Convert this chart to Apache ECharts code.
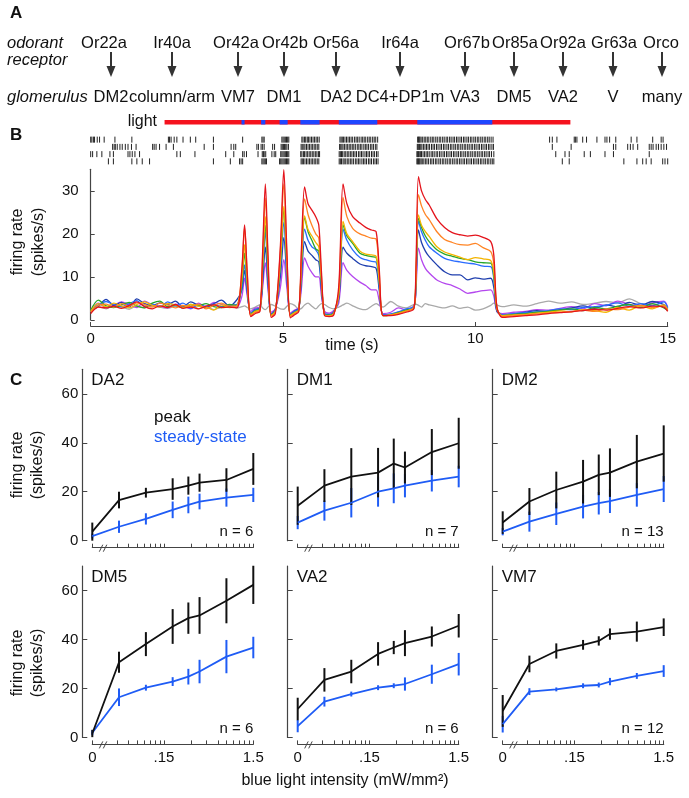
<!DOCTYPE html>
<html><head><meta charset="utf-8">
<script src="https://cdn.jsdelivr.net/npm/echarts@6/dist/echarts.min.js"></script>
<style>html,body{margin:0;padding:0;background:#fff}#c{width:689px;height:798px}</style>
</head><body><div id="c"></div>
<script>
// ---------------- Panel A ----------------
const receptors = ['Or22a','Ir40a','Or42a','Or42b','Or56a','Ir64a','Or67b','Or85a','Or92a','Gr63a','Orco'];
const glomeruli = ['DM2','column/arm','VM7','DM1','DA2','DC4+DP1m','VA3','DM5','VA2','V','many'];

// ---------------- Panel B ----------------
const lightOn = [1.92, 12.47];
const bluePulseStart = [3.92, 4.43, 4.91, 5.45, 6.45, 8.49];
const bluePulseEnd   = [4.00, 4.54, 5.12, 5.95, 7.45, 10.44];

const spikesRow1 = [0.0,0.03,0.07,0.1,0.17,0.23,0.35,0.63,1.07,2.02,2.05,2.09,2.17,2.24,2.4,2.59,2.73,3.19,3.95,4.45,4.48,4.51,4.97,5.0,5.03,5.06,5.09,5.12,5.15,5.49,5.52,5.56,5.59,5.63,5.66,5.7,5.74,5.78,5.82,5.86,5.9,5.94,6.48,6.51,6.54,6.57,6.61,6.65,6.69,6.73,6.77,6.81,6.86,6.9,6.94,6.98,7.03,7.07,7.11,7.15,7.2,7.24,7.28,7.33,7.37,7.41,7.46,8.5,8.52,8.54,8.56,8.59,8.63,8.67,8.71,8.75,8.79,8.84,8.88,8.92,8.97,9.01,9.06,9.1,9.15,9.19,9.24,9.28,9.33,9.37,9.42,9.46,9.51,9.55,9.6,9.64,9.69,9.73,9.78,9.82,9.87,9.91,9.96,10.0,10.05,10.09,10.14,10.18,10.23,10.27,10.32,10.36,10.41,10.46,11.93,12.0,12.12,12.57,12.6,12.64,12.79,12.89,13.16,13.37,13.42,13.49,13.65,14.05,14.2,14.61,14.83,14.88];
const spikesRow2 = [0.57,0.61,0.64,0.69,0.76,0.82,0.9,0.97,1.06,1.18,1.61,1.65,1.7,1.79,1.96,2.15,2.95,3.19,3.65,3.72,3.77,4.32,4.36,4.43,4.47,4.51,4.73,4.78,4.95,4.98,5.01,5.04,5.07,5.1,5.14,5.47,5.5,5.54,5.57,5.61,5.65,5.69,5.73,5.77,5.81,5.85,5.89,5.93,6.47,6.5,6.53,6.56,6.6,6.64,6.68,6.72,6.76,6.8,6.84,6.88,6.93,6.97,7.01,7.05,7.1,7.14,7.18,7.22,7.27,7.31,7.35,7.4,7.44,8.49,8.51,8.53,8.55,8.58,8.61,8.65,8.69,8.73,8.77,8.81,8.86,8.9,8.94,8.99,9.03,9.08,9.12,9.17,9.21,9.26,9.3,9.35,9.39,9.44,9.48,9.53,9.57,9.62,9.66,9.71,9.75,9.8,9.84,9.89,9.93,9.98,10.02,10.07,10.11,10.16,10.2,10.25,10.29,10.34,10.38,10.43,10.47,12.0,12.49,13.59,13.65,13.96,14.03,14.1,14.22,14.52,14.57,14.62,14.7,14.76,14.83,14.9,14.97];
const spikesRow3 = [0.0,0.05,0.16,0.29,0.5,0.59,0.97,1.02,1.08,1.15,1.27,2.24,2.33,2.71,3.51,3.72,3.95,3.99,4.05,4.35,4.46,4.49,4.51,4.55,4.71,4.77,4.81,4.94,4.97,5.0,5.03,5.06,5.09,5.12,5.15,5.46,5.49,5.53,5.56,5.6,5.64,5.68,5.72,5.76,5.8,5.84,5.88,5.92,5.95,6.46,6.49,6.52,6.55,6.59,6.63,6.67,6.71,6.75,6.79,6.83,6.87,6.91,6.96,7.0,7.04,7.08,7.13,7.17,7.21,7.25,7.3,7.34,7.38,7.43,7.47,8.48,8.5,8.52,8.54,8.57,8.6,8.64,8.68,8.72,8.76,8.8,8.85,8.89,8.93,8.98,9.02,9.07,9.11,9.16,9.2,9.25,9.29,9.34,9.38,9.43,9.47,9.52,9.56,9.61,9.65,9.7,9.74,9.79,9.83,9.88,9.92,9.97,10.01,10.06,10.1,10.15,10.19,10.24,10.28,10.33,10.37,10.42,10.48,12.09,12.33,12.44,12.83,12.99,13.37,13.59,14.52];
const spikesRow4 = [0.46,0.59,1.07,1.2,1.34,1.53,3.19,3.63,3.87,3.91,3.95,4.45,4.48,4.51,4.54,4.57,4.91,4.94,4.97,5.0,5.03,5.06,5.09,5.12,5.15,5.47,5.5,5.53,5.57,5.61,5.65,5.69,5.73,5.77,5.81,5.85,5.89,5.93,6.46,6.49,6.52,6.56,6.59,6.63,6.67,6.71,6.75,6.79,6.83,6.88,6.92,6.96,7.0,7.05,7.09,7.13,7.17,7.22,7.26,7.3,7.35,7.39,7.43,7.47,8.48,8.5,8.52,8.54,8.56,8.59,8.62,8.66,8.7,8.74,8.78,8.83,8.87,8.91,8.96,9.0,9.05,9.09,9.14,9.18,9.23,9.27,9.32,9.36,9.41,9.45,9.5,9.54,9.59,9.63,9.68,9.72,9.77,9.81,9.86,9.9,9.95,9.99,10.04,10.08,10.13,10.17,10.22,10.26,10.31,10.35,10.4,10.44,10.48,12.26,12.44,13.86,14.2,14.35,14.44,14.57,14.87,14.93,15.0];

const traceTime = [0,0.2,0.4,0.6,0.8,1,1.2,1.4,1.6,1.8,2,2.2,2.4,2.6,2.8,3,3.2,3.4,3.6,3.8,
 3.93,4,4.07,4.16,4.28,4.4,4.47,4.54,4.61,4.69,4.8,4.93,5.02,5.1,5.19,5.3,5.41,5.48,5.56,5.65,5.75,5.85,5.93,6,6.08,6.2,6.32,
 6.45,6.56,6.66,6.81,7,7.15,7.3,7.42,7.5,7.6,
 7.8,8,8.2,8.4,
 8.45,8.52,8.6,8.7,8.8,9,9.2,9.4,9.6,9.8,10,10.2,10.4,10.48,10.56,10.7,
 11,11.3,11.6,11.9,12.2,12.5,12.8,13.1,13.4,13.7,14,14.3,14.6,14.9,15];
const rateRed = [1.5,3.0,2.8,3.2,2.7,3.4,4.2,3.1,2.6,3.3,2.9,3.6,2.7,3.0,2.6,3.2,3.5,2.9,3.0,2.8,
 12,22.1,11,0.8,1.5,2.0,16,31.6,15,0.6,1.5,17,34.9,16,0.5,1.2,2.0,17,30.9,27,25.5,24,22,11,1.0,0.8,1.2,
 8,31.6,27,24,22.5,21.5,20.9,20.5,12,1,
 1.0,1.3,1.8,2.6,
 10,33.3,30,28,26.7,23.5,21.5,20.3,19.8,19.5,19.7,19.2,18.2,15,3,0.6,
 0.8,1.0,1.2,1.5,1.7,1.9,2.2,2.5,2.3,2.7,3.1,2.8,3.2,3.0,2.0];
const rateOrange = [1.8,3.4,3.7,3.0,3.8,3.2,4.0,3.6,3.0,3.9,3.5,2.8,3.4,3.1,3.7,2.6,3.4,3.9,3.2,3.3,
 11.5,21.5,10.5,1.0,1.8,2.2,14.5,28.3,14,0.9,1.8,16,31.6,15,0.8,1.5,2.2,15.5,28.1,24.5,22,20,19,10,1.1,0.9,1.4,
 7,28.5,24,21.3,20,19.5,19,18.8,11,1,
 1.1,1.4,2.0,2.8,
 9,29.1,26.5,24.5,23.3,20.5,18.7,18,17.5,17.4,17.8,16.8,15.9,13,3,0.8,
 1.0,1.2,1.4,1.6,1.8,2.0,2.3,2.0,2.6,2.4,3.0,3.4,2.9,3.3,2.2];
const rateYellow = [2.0,3.8,3.1,3.9,3.3,2.8,3.6,4.2,3.4,3.0,3.8,3.5,2.9,3.6,3.2,3.0,2.3,3.5,2.9,3.2,
 9.5,17.5,8.5,1.2,2.0,2.4,12.5,24,12,1.1,2.0,13.5,26.4,13,1.0,1.7,2.3,13.5,24.2,21,19.5,18,17,9,1.2,1.0,1.5,
 6,22.9,20,18.2,16,15.3,15.1,14.8,9,1,
 1.2,1.6,2.1,2.9,
 8,24.4,22,20.5,19.4,17,15.8,15.2,14.6,14,14.5,14.2,13.8,11,2.5,1,
 1.2,1.3,1.6,1.8,2.1,1.9,2.4,2.2,1.8,2.9,2.3,3.3,2.6,3.5,2.4];
const rateGreen = [2.2,4.6,3.3,2.9,3.5,4.1,3.2,2.8,3.9,4.4,3.1,3.4,2.8,3.6,3.3,3.8,3.1,2.9,3.6,3.4,
 8.5,15.5,8,1.3,2.2,2.5,11.5,22,11,1.2,2.1,13,25.6,12.5,1.1,1.8,2.4,13,23.8,20.5,18.5,16.5,16,8.5,1.3,1.1,1.6,
 6,22.1,19.5,17.8,15.5,15,14.7,14.5,9,1,
 1.2,1.7,2.3,2.7,
 8,23.6,21.5,19.5,18.2,16.3,15.3,14.8,14.3,14,13.5,13.3,13.2,10,2.5,1,
 1.3,1.5,1.8,2.0,2.3,2.6,2.2,2.9,2.6,3.2,3.6,2.9,3.8,2.8,2.2];
const rateBlue = [2.3,3.5,4.3,3.6,3.1,3.8,4.5,3.2,3.7,3.0,4.2,3.3,3.9,2.7,3.5,3.2,3.7,3.1,3.4,3.6,
 7.5,12.8,7,1.5,2.4,2.7,11,20.5,10,1.3,2.3,12,22.6,11,1.2,2.0,2.6,12,21.1,18.5,17,16.3,15,8,1.5,1.2,1.8,
 6,21.1,18.5,16.3,14.5,14,13.6,13.4,8,1.2,
 1.4,1.9,2.6,3.1,
 7,22.9,20.5,18.5,17,15.5,14.3,13.8,13.5,13.2,13,12.5,12.4,9.5,2.5,1.2,
 1.5,1.7,1.9,2.2,2.6,2.4,2.9,3.1,3.4,4.0,3.2,3.8,3.3,4.2,2.8];
const rateNavy = [2.0,3.2,4.8,3.4,4.1,3.0,4.9,3.8,3.3,4.0,3.6,4.4,3.0,4.2,3.4,2.9,3.8,4.6,3.2,4.7,
 7,11.5,6.5,1.5,2.5,2.8,9,16.9,8.5,1.4,2.4,10,19.1,10,1.3,2.1,2.7,10,18.2,16,15,14,13.5,7,1.5,1.3,1.9,
 5,16.9,15.5,14.3,13,12.6,12.4,12,7,1.2,
 1.3,1.8,2.2,3.0,
 7,20.9,18,16,14.7,12.8,11.2,10.5,10.5,9.3,9.8,9.5,9.7,7.5,2,1.2,
 1.4,1.8,2.2,1.9,2.4,2.8,3.3,2.7,3.5,3.1,4.1,3.4,4.3,3.6,2.6];
const ratePurple = [1.9,3.9,2.9,3.4,4.2,3.6,2.9,4.4,3.5,3.2,2.8,3.7,3.3,2.6,3.9,3.0,4.1,3.6,3.1,3.0,
 5.5,9.7,5.5,2.0,2.8,3.0,7.5,13.3,7,1.8,2.6,7.5,14,7.5,1.6,2.3,2.9,7.5,14.4,12.5,11,10,10,5.5,2.0,1.6,2.2,
 4,13.3,11.5,10.1,8.8,8,7,7,4.5,1.5,
 1.8,2.8,2.4,3.3,
 6,16.7,14,12,10.9,9.3,8.5,8,7.2,6.2,6.5,6.8,7,5.5,2,1.5,
 1.8,2.0,2.4,2.3,2.7,3.1,2.6,3.8,3.3,4.4,3.6,3.2,4.0,4.4,3.0];
const rateGray = [2.5,3.1,2.6,3.4,3.0,2.5,3.3,2.8,3.6,3.0,2.7,3.2,2.9,3.5,2.6,3.1,2.4,3.0,3.3,2.8,
 3.1,3.3,2.9,2.6,3.0,3.5,2.8,2.4,3.0,3.6,3.2,2.6,2.5,3.2,3.8,3.4,2.5,2.7,3.5,3.9,3.2,2.6,3.3,3.8,3.6,2.9,2.6,
 3.0,3.5,3.9,3.3,2.6,2.4,3.2,3.8,3.4,3.0,
 4.3,3.2,2.8,3.6,
 3.7,3.4,3.0,3.8,3.5,3.1,2.8,3.3,2.7,3.0,2.3,2.6,3.4,3.9,3.5,3.1,
 3.5,3.2,3.8,4.4,3.9,4.2,3.6,3.9,4.3,4.0,4.9,3.8,3.5,3.4,3.0];
const bTimeTicks = [0, 5, 10, 15];
const bRateTicks = [0, 10, 20, 30];

// ---------------- Panel C ----------------
const intensities = [0, 0.047, 0.094, 0.1875, 0.281, 0.375, 0.75, 1.5];
const glomNames = ['DA2','DM1','DM2','DM5','VA2','VM7'];
const nCells = [6, 7, 13, 6, 6, 12];
const peakDA2 = [3.7,16.6,19.6,21.1,22.5,23.7,24.8,29.3];
const peakErrDA2 = [3.7,3.4,2.0,4.4,3.7,3.7,4.8,6.5];
const steadyDA2 = [1.9,5.7,8.9,12.6,14.6,16.0,17.6,18.7];
const steadyErrDA2 = [1.0,2.5,2.3,3.4,3.4,3.2,3.7,2.9];
const peakDM1 = [14.3,22.5,26.2,27.8,31.5,29.9,36.2,39.8];
const peakErrDM1 = [7.8,6.7,11.6,10.1,10.2,6.5,9.4,10.4];
const steadyDM1 = [7.4,12.3,15.5,20.0,21.4,22.5,24.5,26.2];
const steadyErrDM1 = [2.7,4.1,6.0,6.1,6.1,4.8,4.4,4.4];
const peakDM2 = [7.4,16.0,20.7,24.1,26.9,27.8,32.3,35.6];
const peakErrDM2 = [4.6,5.5,7.5,8.9,8.3,9.9,10.9,11.5];
const steadyDM2 = [3.7,7.8,11.0,13.9,15.3,16.2,18.7,21.1];
const steadyErrDM2 = [1.5,4.1,4.6,4.8,4.6,4.9,4.8,5.3];
const peakDM5 = [1.6,30.7,38.1,45.3,48.7,49.8,55.8,62.3];
const peakErrDM5 = [1.5,4.3,4.9,7.1,6.4,7.5,9.2,7.8];
const steadyDM5 = [1.9,16.4,20.3,22.8,24.8,26.9,33.0,36.7];
const steadyErrDM5 = [1.0,3.6,1.2,1.8,3.2,4.8,6.8,4.4];
const peakVA2 = [11.6,23.5,26.9,34.1,36.7,38.5,41.2,45.6];
const peakErrVA2 = [4.6,4.8,4.8,4.8,2.7,5.3,4.1,4.8];
const steadyVA2 = [4.6,14.6,17.7,20.3,21.1,21.8,25.8,29.9];
const steadyErrVA2 = [2.5,2.0,1.0,1.0,1.0,2.7,3.9,4.6];
const peakVM7 = [10.8,30.0,35.3,37.8,39.4,42.2,43.2,45.0];
const peakErrVM7 = [6.5,3.4,3.1,2.0,1.9,2.3,4.1,3.6];
const steadyVM7 = [5.4,18.7,19.6,21.1,21.4,22.8,25.1,27.1];
const steadyErrVM7 = [3.4,1.4,0.8,1.0,1.0,1.5,1.2,2.4];
const cXTicks = [0,0.045,0.06,0.075,0.09,0.105,0.12,0.135,0.15,0.3,0.45,0.6,0.75,0.9,1.05,1.2,1.35,1.5];
const cXLabelValues = [0, 0.15, 1.5];
const cXLabelTexts = ['0', '.15', '1.5'];
const cYTicks = [0, 20, 40, 60];

// ---------------- build ----------------
const FONT = 'Liberation Sans, Arial, Helvetica, sans-serif';
const TXT = '#111';
const AX = '#444';
const zeroPlacement = 0.0236; // where "0" sits on the log-scaled axis (before the break)
const logPos = v => Math.log10(v === 0 ? zeroPlacement : v);

const chart = echarts.init(document.getElementById('c'));
const grid = [], xAxis = [], yAxis = [], series = [], graphic = [];

function txt(text, x, y, o) {
  o = o || {};
  graphic.push({type:'text', x:x, y:y, rotation:o.rot||0, silent:true,
    style:{text:text, fill:o.fill||TXT, fontSize:o.size||15, fontFamily:FONT,
      fontStyle:o.italic?'italic':'normal', fontWeight:o.bold?'bold':'normal',
      align:o.align||'center', verticalAlign:'middle', textAlign:o.align||'center', textVerticalAlign:'middle'}});
}

// Panel A
const AF = 16.5;
txt('A', 10, 13, {bold:true, size:17, align:'left'});
txt('odorant', 7, 43, {italic:true, align:'left', size:AF});
txt('receptor', 7, 60, {italic:true, align:'left', size:AF});
txt('glomerulus', 7, 97, {italic:true, align:'left', size:AF});
const recX = [104,172,236,285,336,400,467,515,563,614,661];
const arrowX = [111,172,238,284,336,400,465,514,563,613,662];
receptors.forEach((r,k)=>txt(r, recX[k], 43, {size:AF}));
glomeruli.forEach((g,k)=>txt(g, arrowX[k], 97, {size:AF}));
arrowX.forEach(x=>{
  graphic.push({type:'line', silent:true, shape:{x1:x,y1:52,x2:x,y2:68}, style:{stroke:'#333', lineWidth:2}});
  graphic.push({type:'polygon', silent:true, shape:{points:[[x-4.5,66],[x+4.5,66],[x,77]]}, style:{fill:'#333'}});
});

// Panel B
txt('B', 10, 135, {bold:true, size:17, align:'left'});
txt('light', 157, 122, {align:'right', size:16});
const bLeft = 90.7, bWidth = 577;
// grid 0: light bar
grid.push({left:bLeft, top:120, width:bWidth, height:4.5, outerBoundsMode:'none'});
xAxis.push({gridIndex:0, type:'value', min:0, max:15, show:false});
yAxis.push({gridIndex:0, type:'value', min:0, max:1, show:false});
const lightData = [[lightOn[0], lightOn[1], 0]].concat(bluePulseStart.map((s,k)=>[s, bluePulseEnd[k], 1]));
series.push({type:'custom', xAxisIndex:0, yAxisIndex:0, data:lightData, silent:true,
  encode:{x:[0,1]},
  renderItem:function(p, api){
    const a = api.coord([api.value(0), 0]), b = api.coord([api.value(1), 1]);
    return {type:'rect', shape:{x:a[0], y:b[1], width:b[0]-a[0], height:a[1]-b[1]},
      style:{fill: api.value(2) === 1 ? '#1e46ff' : '#f5121e'}};
  }});
// grid 1: raster
grid.push({left:bLeft, top:136, width:bWidth, height:29, outerBoundsMode:'none'});
xAxis.push({gridIndex:1, type:'value', min:0, max:15, show:false});
yAxis.push({gridIndex:1, type:'value', min:0.5, max:4.5, inverse:true, show:false});
const rasterData = [];
[spikesRow1, spikesRow2, spikesRow3, spikesRow4].forEach((row,r)=>row.forEach(t=>rasterData.push([t, r+1])));
series.push({type:'custom', xAxisIndex:1, yAxisIndex:1, data:rasterData, silent:true,
  renderItem:function(p, api){
    const c = api.coord([api.value(0), api.value(1)]);
    return {type:'line', shape:{x1:c[0], y1:c[1]-3, x2:c[0], y2:c[1]+3}, style:{stroke:'#222', lineWidth:1}};
  }});
// grid 2: traces
grid.push({left:bLeft, top:169.3, width:bWidth, height:150.7, outerBoundsMode:'none'});
xAxis.push({gridIndex:2, type:'value', min:0, max:15, offset:6,
  axisLine:{show:true, onZero:false, lineStyle:{color:AX, width:1.2}},
  axisTick:{show:true, inside:true, length:4, customValues:bTimeTicks, lineStyle:{color:AX}},
  axisLabel:{customValues:bTimeTicks, color:TXT, fontSize:15, fontFamily:FONT, margin:5},
  splitLine:{show:false}});
yAxis.push({gridIndex:2, type:'value', min:0, max:35,
  axisLine:{show:true, onZero:false, lineStyle:{color:AX, width:1.2}},
  axisTick:{show:true, inside:true, length:4, customValues:bRateTicks, lineStyle:{color:AX}},
  axisLabel:{customValues:bRateTicks, color:TXT, fontSize:15, fontFamily:FONT, margin:12},
  splitLine:{show:false}});
const traceSets = [
  [rateGray, '#a9a9a9'], [ratePurple, '#b447ee'], [rateNavy, '#1f3fae'], [rateBlue, '#2a6cff'],
  [rateGreen, '#27a62a'], [rateYellow, '#f4b400'], [rateOrange, '#ff8424'], [rateRed, '#e4141c']];
traceSets.forEach(([vals, col])=>{
  series.push({type:'line', xAxisIndex:2, yAxisIndex:2, showSymbol:false, smooth:0.3, silent:true,
    data: traceTime.map((t,k)=>[t, vals[k]]), lineStyle:{color:col, width:1.3}});
});
txt('firing rate', 18, 242, {rot:Math.PI/2, size:16});
txt('(spikes/s)', 39, 242, {rot:Math.PI/2, size:16});
txt('time (s)', 352, 346, {size:16});

// Panel C
txt('C', 10, 380, {bold:true, size:17, align:'left'});
const cLeft = [92.3, 297.7, 502.7], cTop = [369.3, 566], cW = 161, cH = 171.4;
const peaks = [peakDA2, peakDM1, peakDM2, peakDM5, peakVA2, peakVM7];
const peakErrs = [peakErrDA2, peakErrDM1, peakErrDM2, peakErrDM5, peakErrVA2, peakErrVM7];
const steadies = [steadyDA2, steadyDM1, steadyDM2, steadyDM5, steadyVA2, steadyVM7];
const steadyErrs = [steadyErrDA2, steadyErrDM1, steadyErrDM2, steadyErrDM5, steadyErrVA2, steadyErrVM7];
const BLUE = '#1f5cf5', BLACK = '#111';
function errSeries(idx, means, errs, col) {
  return {type:'custom', xAxisIndex:idx, yAxisIndex:idx, silent:true,
    data: intensities.map((v,k)=>[logPos(v), means[k], errs[k]]),
    renderItem:function(p, api){
      const x = api.value(0), m = api.value(1), e = api.value(2);
      const a = api.coord([x, m-e]), b = api.coord([x, m+e]);
      return {type:'line', shape:{x1:a[0], y1:a[1], x2:b[0], y2:b[1]}, style:{stroke:col, lineWidth:2}};
    }};
}
for (let i = 0; i < 6; i++) {
  const row = Math.floor(i/3), col = i%3, gi = 3+i;
  grid.push({left:cLeft[col], top:cTop[row], width:cW, height:cH, outerBoundsMode:'none'});
  xAxis.push({gridIndex:gi, type:'value', min:logPos(0), max:logPos(1.5), offset:7,
    axisLine:{show:true, onZero:false, lineStyle:{color:AX, width:1.2}},
    axisTick:{show:true, inside:true, length:4, customValues:cXTicks.map(logPos), lineStyle:{color:AX}},
    axisLabel:{show:row===1, customValues:cXLabelValues.map(logPos), color:TXT, fontSize:15, fontFamily:FONT, margin:6,
      formatter:function(v){ let best=0; cXLabelValues.forEach((c,k)=>{ if (Math.abs(logPos(c)-v) < Math.abs(logPos(cXLabelValues[best])-v)) best=k; }); return cXLabelTexts[best]; }},
    splitLine:{show:false}});
  yAxis.push({gridIndex:gi, type:'value', min:0, max:70, offset:10,
    axisLine:{show:true, onZero:false, lineStyle:{color:AX, width:1.2}},
    axisTick:{show:true, inside:true, length:5, customValues:cYTicks, lineStyle:{color:AX}},
    axisLabel:{show:col===0, customValues:cYTicks, color:TXT, fontSize:15, fontFamily:FONT, margin:4},
    splitLine:{show:false}});
  series.push(errSeries(gi, steadies[i], steadyErrs[i], BLUE));
  series.push({type:'line', xAxisIndex:gi, yAxisIndex:gi, showSymbol:false, silent:true,
    data: intensities.map((v,k)=>[logPos(v), steadies[i][k]]), lineStyle:{color:BLUE, width:1.8}});
  series.push(errSeries(gi, peaks[i], peakErrs[i], BLACK));
  series.push({type:'line', xAxisIndex:gi, yAxisIndex:gi, showSymbol:false, silent:true,
    data: intensities.map((v,k)=>[logPos(v), peaks[i][k]]), lineStyle:{color:BLACK, width:1.8}});
  txt(glomNames[i], cLeft[col]-1, cTop[row]+11, {align:'left', size:17});
  txt('n = ' + nCells[i], cLeft[col]+cW, cTop[row]+cH-9, {align:'right', size:15});
  const bx = cLeft[col] + 11, by = cTop[row] + cH + 7;
  graphic.push({type:'line', silent:true, shape:{x1:bx-4, y1:by+4, x2:bx-0.5, y2:by-3}, style:{stroke:AX, lineWidth:1}});
  graphic.push({type:'line', silent:true, shape:{x1:bx, y1:by+4, x2:bx+3.5, y2:by-3}, style:{stroke:AX, lineWidth:1}});
}
txt('peak', 154, 417, {align:'left', size:17});
txt('steady-state', 154, 437, {align:'left', size:17, fill:BLUE});
[465, 663].forEach(yc=>{
  txt('firing rate', 18, yc, {rot:Math.PI/2, size:16});
  txt('(spikes/s)', 38, yc, {rot:Math.PI/2, size:16});
});
txt('blue light intensity (mW/mm²)', 345, 781, {size:16});

chart.setOption({animation:false, backgroundColor:'#fff', grid, xAxis, yAxis, series, graphic});
</script></body></html>
